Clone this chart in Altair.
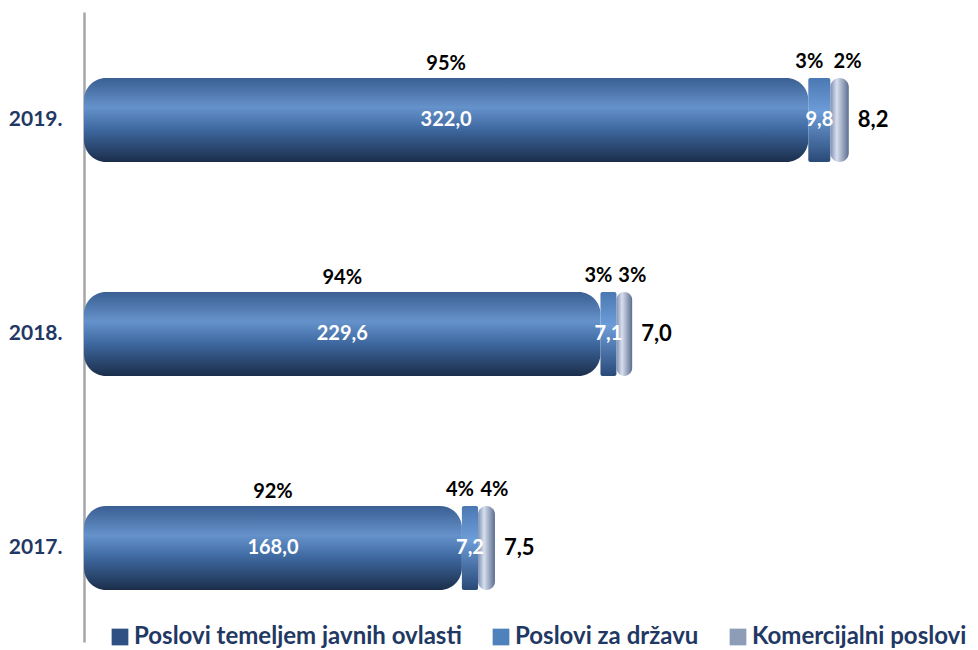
import altair as alt
import pandas as pd

years = ["2019.", "2018.", "2017."]
series = ["Poslovi temeljem javnih ovlasti", "Poslovi za državu", "Komercijalni poslovi"]
javne = [322.0, 229.6, 168.0]
drzava = [9.8, 7.1, 7.2]
komerc = [8.2, 7.0, 7.5]
pct_javne = [95, 94, 92]
pct_drzava = [3, 3, 4]
pct_komerc = [2, 3, 4]

FONT = "Lato"
NAVY = "#1F3864"


def fmt(v):
    return f"{v:.1f}".replace(".", ",")


rows = []
for i, yr in enumerate(years):
    a, b, c = javne[i], drzava[i], komerc[i]
    rows.append(dict(
        year=yr,
        s0=0.0, e0=a, m0=a / 2,
        s1=a, e1=a + b, m1=a + b / 2,
        s2=a + b, e2=a + b + c, m2=a + b + c / 2,
        v0=fmt(a), v1=fmt(b), v2=fmt(c),
        p0=f"{pct_javne[i]}%", p1=f"{pct_drzava[i]}%", p2=f"{pct_komerc[i]}%",
    ))
df = pd.DataFrame(rows)

xs = alt.Scale(domain=[0, 385], nice=False, zero=True)
yenc = alt.Y(
    "year:N", sort=years,
    scale=alt.Scale(paddingInner=0.6075, paddingOuter=0.2757, align=0.559),
    axis=alt.Axis(title=None, ticks=False, grid=False, labelPadding=22,
                  labelFont=FONT, labelFontSize=21, labelFontWeight="bold",
                  labelColor=NAVY, domainColor="#A6A6A6", domainWidth=2.5),
)

grad_main = {"gradient": "linear", "x1": 0, "y1": 0, "x2": 0, "y2": 1,
             "stops": [{"offset": 0, "color": "#3A5F93"},
                       {"offset": 0.35, "color": "#6692CB"},
                       {"offset": 0.6, "color": "#3F6AA2"},
                       {"offset": 1, "color": "#1B2E4B"}]}
grad_mid = {"gradient": "linear", "x1": 0, "y1": 0, "x2": 0, "y2": 1,
            "stops": [{"offset": 0, "color": "#4A78B3"},
                      {"offset": 0.4, "color": "#6D9DD8"},
                      {"offset": 1, "color": "#2A4A78"}]}
grad_com = {"gradient": "linear", "x1": 0, "y1": 0, "x2": 1, "y2": 0,
            "stops": [{"offset": 0, "color": "#7D8EB0"},
                      {"offset": 0.35, "color": "#D8E0EE"},
                      {"offset": 1, "color": "#5C6D90"}]}

base = alt.Chart(df)

bar0 = base.mark_bar(cornerRadius=22, fill=grad_main).encode(
    x=alt.X("s0:Q", scale=xs, axis=None), x2="e0:Q", y=yenc)
bar1 = base.mark_bar(cornerRadius=2, fill=grad_mid).encode(
    x=alt.X("s1:Q", scale=xs, axis=None), x2="e1:Q", y=yenc)
bar2 = base.mark_bar(cornerRadius=9, fill=grad_com).encode(
    x=alt.X("s2:Q", scale=xs, axis=None), x2="e2:Q", y=yenc)

tkw = dict(font=FONT, fontWeight="bold")
val0 = base.mark_text(color="white", fontSize=20, **tkw).encode(
    x=alt.X("m0:Q", scale=xs, axis=None), y=yenc, text="v0:N")
val1 = base.mark_text(color="white", fontSize=20, **tkw).encode(
    x=alt.X("m1:Q", scale=xs, axis=None), y=yenc, text="v1:N")
val2 = base.mark_text(color="black", fontSize=22, align="left", dx=9, **tkw).encode(
    x=alt.X("e2:Q", scale=xs, axis=None), y=yenc, text="v2:N")

pc0 = base.mark_text(color="black", fontSize=20, dy=-56, **tkw).encode(
    x=alt.X("m0:Q", scale=xs, axis=None), y=yenc, text="p0:N")
pc1 = base.mark_text(color="black", fontSize=20, dy=-58, dx=-10, **tkw).encode(
    x=alt.X("m1:Q", scale=xs, axis=None), y=yenc, text="p1:N")
pc2 = base.mark_text(color="black", fontSize=20, dy=-58, dx=8, **tkw).encode(
    x=alt.X("m2:Q", scale=xs, axis=None), y=yenc, text="p2:N")

leg_df = pd.DataFrame({"series": series})
legend_layer = alt.Chart(leg_df).mark_square(opacity=0).encode(
    x=alt.value(0), y=alt.value(0),
    color=alt.Color("series:N", sort=series,
                    scale=alt.Scale(domain=series, range=["#2E5083", "#4F81BD", "#8E9DB7"]),
                    legend=alt.Legend(orient="none", legendX=24, legendY=613,
                                      direction="horizontal", title=None,
                                      symbolType="square", symbolSize=280,
                                      symbolOpacity=1, symbolStrokeWidth=0,
                                      labelFont=FONT, labelFontSize=24,
                                      labelFontWeight="bold", labelColor=NAVY,
                                      labelOffset=2, columnPadding=27,
                                      labelLimit=500)),
)

chart = alt.layer(bar0, bar1, bar2, val0, val1, val2, pc0, pc1, pc2, legend_layer).properties(
    width=866, height=630,
    autosize=alt.AutoSizeParams(type="none"),
    padding={"left": 76, "top": 4, "right": 20, "bottom": 8},
).configure_view(stroke=None)

chart.save("out.html", embed_options={"renderer": "svg", "actions": False})
